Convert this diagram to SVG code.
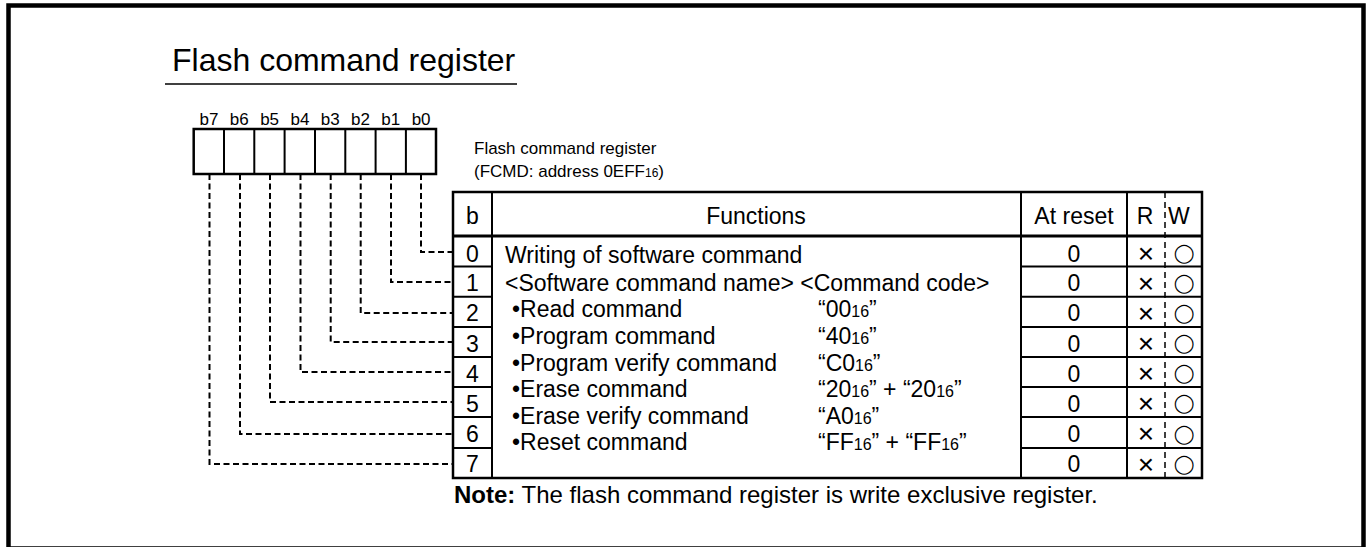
<svg xmlns="http://www.w3.org/2000/svg" width="1366" height="547" viewBox="0 0 1366 547">
<style>
text{font-family:"Liberation Sans",Arial,sans-serif;fill:#000}
.t{font-size:23px}
.s{font-size:17px}
.sub{font-size:16px}
.sub2{font-size:12px}
.c{text-anchor:middle}
.box{fill:#fff;stroke:#000;stroke-width:2.5}
.ln{stroke:#000;stroke-width:2;fill:none}
.dash{stroke:#000;stroke-width:2;fill:none;stroke-dasharray:6,3.5}
.x{font-family:"Liberation Sans",Arial,sans-serif;font-size:28px;text-anchor:middle}
.o{font-family:"DejaVu Sans",sans-serif;font-size:18.5px;text-anchor:middle}
</style>
<rect x="8.5" y="5.5" width="1355" height="543" fill="#fff" stroke="#000" stroke-width="4.5"/>
<g id="title">
<text x="172" y="71" style="font-size:32px">Flash command register</text>
<line x1="165" y1="84" x2="517" y2="84" stroke="#000" stroke-width="1.5"/>
</g>
<g id="register">
<rect x="193.7" y="129" width="242.3" height="45" class="box"/>
<path class="ln" d="M224 129V174M254.3 129V174M284.6 129V174M315 129V174M345.3 129V174M375.6 129V174M405.9 129V174"/>
<g class="s c">
<text x="209" y="125">b7</text><text x="239.3" y="125">b6</text><text x="269.6" y="125">b5</text><text x="299.9" y="125">b4</text>
<text x="330.2" y="125">b3</text><text x="360.5" y="125">b2</text><text x="390.8" y="125">b1</text><text x="421.1" y="125">b0</text>
</g>
</g>
<g id="register-label">
<text x="474" y="154" class="s">Flash command register</text>
<text x="474" y="177" class="s">(FCMD: address 0EFF<tspan class="sub2">16</tspan>)</text>
</g>
<g id="connectors">
<path class="dash" d="M421 174V252H453"/>
<path class="dash" d="M391 174V282H453"/>
<path class="dash" d="M360.7 174V313H453"/>
<path class="dash" d="M330.7 174V342H453"/>
<path class="dash" d="M300.5 174V372H453"/>
<path class="dash" d="M270 174V402H453"/>
<path class="dash" d="M240 174V434H453"/>
<path class="dash" d="M209.5 174V464H453"/>
</g>
<g id="table">
<rect x="453" y="192" width="749" height="286" fill="#fff" stroke="#000" stroke-width="2.5"/>
<line x1="453" y1="236" x2="1202" y2="236" stroke="#000" stroke-width="3"/>
<path class="ln" d="M492 192V478M1021 192V478M1127 192V478"/>
<line x1="1165" y1="192" x2="1165" y2="478" stroke="#000" stroke-width="1.5" stroke-dasharray="6,4"/>
<path class="ln" d="M453 266.5H492M453 296.7H492M453 327H492M453 357H492M453 387H492M453 417H492M453 448H492"/>
<path class="ln" d="M1021 266.5H1202M1021 296.7H1202M1021 327H1202M1021 357H1202M1021 387H1202M1021 417H1202M1021 448H1202"/>
<g class="t">
<text x="472.5" y="224" class="c">b</text>
<text x="756" y="224" class="c">Functions</text>
<text x="1074" y="224" class="c">At reset</text>
<text x="1145" y="224" class="c">R</text>
<text x="1168" y="224">W</text>
</g>
<g class="t c">
<text x="472.5" y="262">0</text><text x="472.5" y="291">1</text><text x="472.5" y="321">2</text><text x="472.5" y="352">3</text>
<text x="472.5" y="382">4</text><text x="472.5" y="412">5</text><text x="472.5" y="442">6</text><text x="472.5" y="472">7</text>
<text x="1074" y="262">0</text><text x="1074" y="291">0</text><text x="1074" y="321">0</text><text x="1074" y="352">0</text>
<text x="1074" y="382">0</text><text x="1074" y="412">0</text><text x="1074" y="442">0</text><text x="1074" y="472">0</text>
</g>
<text class="x"><tspan x="1146" y="262.5">×</tspan><tspan x="1146" y="292.5">×</tspan><tspan x="1146" y="322.5">×</tspan><tspan x="1146" y="352.5">×</tspan><tspan x="1146" y="382.5">×</tspan><tspan x="1146" y="412.5">×</tspan><tspan x="1146" y="443">×</tspan><tspan x="1146" y="473.5">×</tspan></text>
<text class="o"><tspan x="1184" y="259">◯</tspan><tspan x="1184" y="288.5">◯</tspan><tspan x="1184" y="318.5">◯</tspan><tspan x="1184" y="349">◯</tspan><tspan x="1184" y="379">◯</tspan><tspan x="1184" y="409">◯</tspan><tspan x="1184" y="439.5">◯</tspan><tspan x="1184" y="469.5">◯</tspan></text>
<g class="t">
<text x="505" y="263">Writing of software command</text>
<text x="505" y="291">&lt;Software command name&gt; &lt;Command code&gt;</text>
<text x="512" y="317">•Read command</text>
<text x="512" y="344">•Program command</text>
<text x="512" y="370.5">•Program verify command</text>
<text x="512" y="397">•Erase command</text>
<text x="512" y="423.5">•Erase verify command</text>
<text x="512" y="450">•Reset command</text>
<text x="818" y="317">“00<tspan class="sub">16</tspan>”</text>
<text x="818" y="344">“40<tspan class="sub">16</tspan>”</text>
<text x="818" y="370.5">“C0<tspan class="sub">16</tspan>”</text>
<text x="818" y="397">“20<tspan class="sub">16</tspan>” + “20<tspan class="sub">16</tspan>”</text>
<text x="818" y="423.5">“A0<tspan class="sub">16</tspan>”</text>
<text x="818" y="450">“FF<tspan class="sub">16</tspan>” + “FF<tspan class="sub">16</tspan>”</text>
</g>
</g>
<g id="note">
<text x="454" y="503" style="font-size:24px"><tspan font-weight="bold">Note:</tspan> The flash command register is write exclusive register.</text>
</g>
</svg>
